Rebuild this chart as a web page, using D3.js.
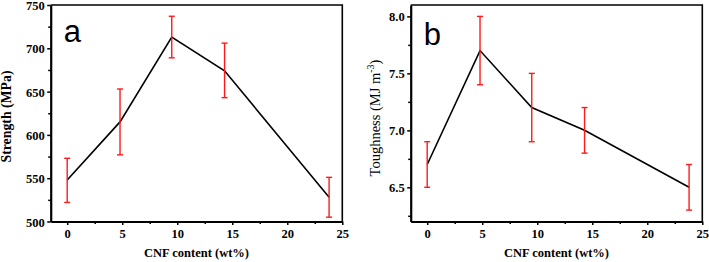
<!DOCTYPE html>
<html>
<head>
<meta charset="utf-8">
<script src="https://cdn.jsdelivr.net/npm/d3@7"></script>
<style>
  body { margin: 0; background: #fff; }
  svg text { font-family: "Liberation Serif", "Times New Roman", serif; }
</style>
</head>
<body>
<svg id="chart" width="709" height="262"></svg>
<script>
// CNF content (wt%) for each sample
const cnfContent = [0, 4.8, 9.5, 14.3, 23.8];

// panel a: tensile strength (MPa)
const strength = [548, 615, 713, 674, 528];
const strengthLow = [522, 577, 689, 643, 505];
const strengthHigh = [573, 653, 737, 706, 551];

// panel b: toughness (MJ m^-3)
const toughness = [6.7, 7.7, 7.2, 7.0, 6.5];
const toughnessLow = [6.5, 7.4, 6.9, 6.8, 6.3];
const toughnessHigh = [6.9, 8.0, 7.5, 7.2, 6.7];

const xTicks = [0, 5, 10, 15, 20, 25];
const xMinor = [2.5, 7.5, 12.5, 17.5, 22.5];
const strengthTicks = [500, 550, 600, 650, 700, 750];
const strengthMinor = [525, 575, 625, 675, 725];
const toughTicks = [6.5, 7.0, 7.5, 8.0];
const toughMinor = [6.25, 6.75, 7.25, 7.75];

const svg = d3.select("#chart");

function drawPanel(opt) {
  const { left, right, top, bottom } = opt;
  const g = svg.append("g");

  const x = d3.scaleLinear().domain([-1.5, 25]).range([left, right]);
  const y = d3.scaleLinear().domain(opt.yDomain).range([bottom, top]);

  // frame top/right
  g.append("path")
    .attr("d", `M${left},${top}H${right}V${bottom}`)
    .attr("fill", "none").attr("stroke", "#000").attr("stroke-width", 1.6);

  // minor ticks
  g.append("g").attr("transform", `translate(0,${bottom})`)
    .call(d3.axisBottom(x).tickValues(xMinor).tickSize(2.5).tickFormat(""))
    .call(a => a.select(".domain").remove())
    .selectAll("line").attr("stroke-width", 1.5);
  g.append("g").attr("transform", `translate(${left},0)`)
    .call(d3.axisLeft(y).tickValues(opt.yMinor).tickSize(2.5).tickFormat(""))
    .call(a => a.select(".domain").remove())
    .selectAll("line").attr("stroke-width", 1.5);

  const xAxis = g.append("g").attr("transform", `translate(0,${bottom})`)
    .call(d3.axisBottom(x).tickValues(xTicks).tickSize(3.5).tickPadding(4).tickSizeOuter(0));
  const yAxis = g.append("g").attr("transform", `translate(${left},0)`)
    .call(d3.axisLeft(y).tickValues(opt.yTicks).tickSize(3.5).tickPadding(2.5)
      .tickSizeOuter(0).tickFormat(opt.yFormat));

  [xAxis, yAxis].forEach(a => {
    a.select(".domain").attr("stroke-width", 2.2);
    a.selectAll(".tick line").attr("stroke-width", 1.5);
    a.selectAll("text")
      .attr("fill", "#000")
      .style("font-size", "12.5px")
      .style("font-weight", "bold");
  });
  yAxis.selectAll("text").attr("dy", "0.36em");

  // data line
  const pts = cnfContent.map((c, i) => [c, opt.values[i]]);
  g.append("path")
    .datum(pts)
    .attr("fill", "none")
    .attr("stroke", "#000")
    .attr("stroke-width", 1.6)
    .attr("d", d3.line().x(d => x(d[0])).y(d => y(d[1])));

  // error bars
  const eb = g.append("g").attr("stroke", "#ff1a1a").attr("stroke-width", 1.4);
  cnfContent.forEach((c, i) => {
    const cx = x(c);
    eb.append("line").attr("x1", cx).attr("x2", cx)
      .attr("y1", y(opt.low[i])).attr("y2", y(opt.high[i]));
    [opt.low[i], opt.high[i]].forEach(v => {
      eb.append("line").attr("x1", cx - 3).attr("x2", cx + 3)
        .attr("y1", y(v)).attr("y2", y(v));
    });
  });

  // panel letter
  g.append("text")
    .attr("x", left + 13)
    .attr("y", top + opt.letterDy)
    .style("font-family", "'Liberation Sans', Arial, sans-serif")
    .style("font-size", "31px")
    .text(opt.letter);

  // x label
  g.append("text")
    .attr("x", (left + right) / 2)
    .attr("y", 257)
    .attr("text-anchor", "middle")
    .style("font-size", "12.5px")
    .style("font-weight", "bold")
    .text("CNF content (wt%)");

  // y label
  const yl = g.append("text")
    .attr("transform", `translate(${opt.yLabelX},${opt.yLabelY}) rotate(-90)`)
    .attr("text-anchor", "middle")
    .style("font-size", opt.yLabelSize)
    .style("font-weight", opt.yLabelBold ? "bold" : "normal");
  opt.yLabel(yl);
}

drawPanel({
  left: 50.7, right: 342.3, top: 5, bottom: 221.5,
  yDomain: [500, 750], yTicks: strengthTicks, yMinor: strengthMinor,
  yFormat: d3.format("d"),
  values: strength, low: strengthLow, high: strengthHigh,
  letter: "a", letterDy: 37,
  yLabelX: 11, yLabelY: 116.5, yLabelSize: "13.8px", yLabelBold: true,
  yLabel: t => t.text("Strength (MPa)")
});

drawPanel({
  left: 410.7, right: 702.3, top: 5, bottom: 221.5,
  yDomain: [6.2, 8.1], yTicks: toughTicks, yMinor: toughMinor,
  yFormat: d3.format(".1f"),
  values: toughness, low: toughnessLow, high: toughnessHigh,
  letter: "b", letterDy: 40,
  yLabelX: 380, yLabelY: 118, yLabelSize: "14.5px", yLabelBold: false,
  yLabel: t => {
    t.append("tspan").text("Toughness (MJ m");
    t.append("tspan").attr("dy", -6).style("font-size", "10px").text("-3");
    t.append("tspan").attr("dy", 6).text(")");
  }
});
</script>
</body>
</html>
